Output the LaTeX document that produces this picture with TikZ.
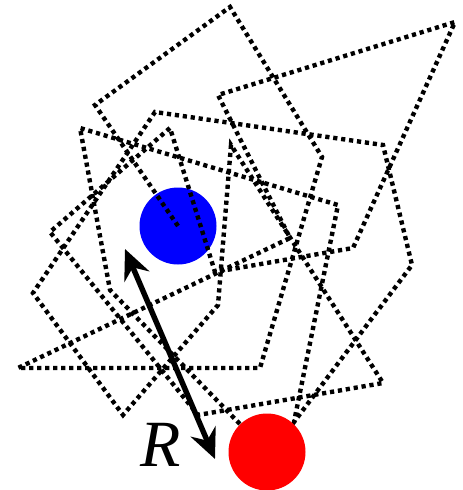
\documentclass[tikz,border=0pt]{standalone}
\usepackage{fontspec}
\setmainfont{Liberation Serif}
\usetikzlibrary{arrows.meta}

\begin{document}
\begin{tikzpicture}[
    x=1pt, y=-1pt,
    bead/.style={
      circle,
      inner sep=0pt,
      minimum size=77pt,
    },
    walk/.style={
      line width=4.4pt,
      dash pattern=on 4.2pt off 3.8pt,
    },
    span/.style={
      line width=5.4pt,
      {Stealth[length=30pt,width=27pt,inset=10pt]}-{Stealth[length=30pt,width=27pt,inset=10pt]},
    },
  ]
    \useasboundingbox (0,0) rectangle (463,490);
    \node[bead, fill=blue] (head) at (178,226) {};
    \coordinate (tailpos) at (267,452);
    % the chain
    \draw[walk] (head.center) -- (95,105) -- (230,7) -- (322,157) -- (260,368)
      -- (18,368) -- (290,238) -- (218,95) -- (455,22) -- (353,248)
      -- (215,272) -- (170,128) -- (50,232) -- (198,415) -- (383,383)
      -- (231,145) -- (218,305) -- (123,415) -- (33,293) -- (155,112)
      -- (383,145) -- (412,265) -- (294,422) -- (338,205) -- (80,128)
      -- (110,290) -- (tailpos);
    \node[bead, fill=red] (tail) at (tailpos) {};
    \coordinate (near) at (125,249);
    \coordinate (far) at (215,459);
    \draw[span] (near) -- (far);
    \node[font=\fontsize{66}{66}\selectfont\itshape] (dist) at (161,445) {R};
  \end{tikzpicture}
\end{document}
